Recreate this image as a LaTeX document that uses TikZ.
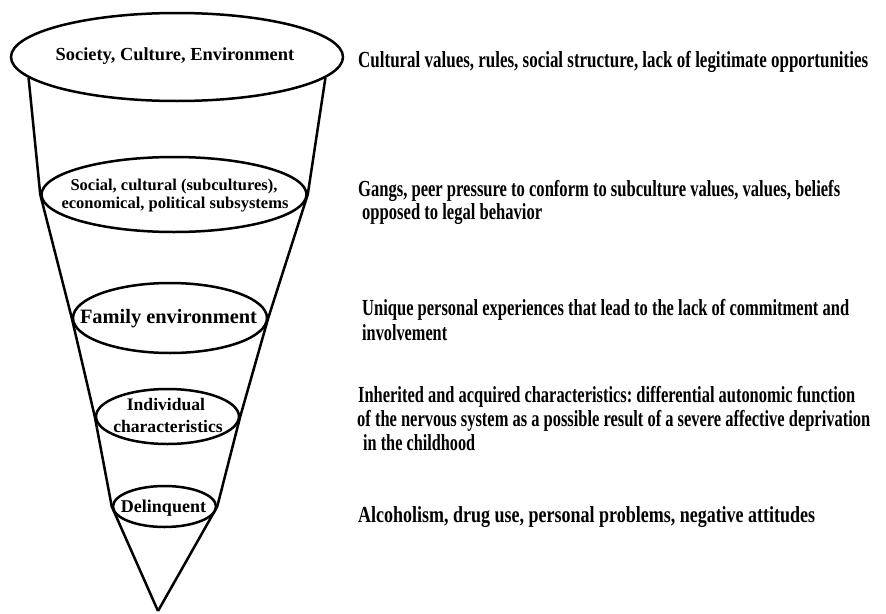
\documentclass[tikz,border=0pt]{standalone}
\usepackage{fontspec}
\setmainfont{Liberation Serif}
\frenchspacing
\usetikzlibrary{shapes.geometric}
\newcommand{\fitw}[2]{\resizebox{#1pt}{\height}{#2}}
\tikzset{
  ell/.style={ellipse, draw=black, line width=2.5pt, inner sep=0pt, fill=white},
  funnel/.style={draw=black, line width=2.5pt, line join=round},
  lab/.style={anchor=base, inner sep=0pt, text=black},
  desc/.style={anchor=base west, inner sep=0pt, text=black, font=\bfseries\fontsize{23}{24}\selectfont},
}
\begin{document}
\begin{tikzpicture}[x=1pt,y=-1pt]
\useasboundingbox (0,0) rectangle (886,613);
% apex
\coordinate (apex) at (158,611);
% ellipses
\node[ell, minimum width=332pt, minimum height=88pt] (e1) at (177,57) {};
\node[ell, minimum width=265pt, minimum height=75pt] (e2) at (174,194.5) {};
\node[ell, minimum width=194pt, minimum height=70pt] (e3) at (170,318) {};
\node[ell, minimum width=143pt, minimum height=55pt] (e4) at (167.5,416.5) {};
\node[ell, minimum width=103pt, minimum height=41pt] (e5) at (164.5,506.5) {};
% funnel sides
\draw[funnel] (e1.188) -- (e2.west) -- (e3.west) -- (e4.west) -- (e5.west) -- (apex);
\draw[funnel] (e1.-8) -- (e2.east) -- (e3.east) -- (e4.east) -- (e5.east) -- (apex);
% ellipse labels
\node[lab, font=\bfseries\fontsize{18.4}{20}\selectfont] (l1) at (175,60) {Society, Culture, Environment};
\node[lab, font=\bfseries\fontsize{16.5}{18}\selectfont] (l2a) at (174,190) {Social, cultural (subcultures),};
\node[lab, font=\bfseries\fontsize{16.5}{18}\selectfont] (l2b) at (175,208) {economical, political subsystems};
\node[lab, font=\bfseries\fontsize{20.4}{22}\selectfont] (l3) at (168.5,323) {Family environment};
\node[lab, font=\bfseries\fontsize{17.6}{20}\selectfont] (l4a) at (166,410) {Individual};
\node[lab, font=\bfseries\fontsize{17.6}{20}\selectfont] (l4b) at (168,432) {characteristics};
\node[lab, font=\bfseries\fontsize{18}{20}\selectfont] (l5) at (163.5,512) {Delinquent};
% descriptions
\node[desc] (d1) at (358,67) {\fitw{510}{Cultural values, rules, social structure, lack of legitimate opportunities}};
\node[desc] (d2a) at (358,196) {\fitw{482}{Gangs, peer pressure to conform to subculture values, values, beliefs}};
\node[desc] (d2b) at (362,219) {\fitw{180}{opposed to legal behavior}};
\node[desc] (d3a) at (362,315) {\fitw{487}{Unique personal experiences that lead to the lack of commitment and}};
\node[desc] (d3b) at (362,340) {\fitw{85}{involvement}};
\node[desc] (d4a) at (358,402) {\fitw{497}{Inherited and acquired characteristics: differential autonomic function}};
\node[desc] (d4b) at (357,426) {\fitw{513}{of the nervous system as a possible result of a severe affective deprivation}};
\node[desc] (d4c) at (363,450) {\fitw{112}{in the childhood}};
\node[desc] (d5) at (358,522) {\fitw{457}{Alcoholism, drug use, personal problems, negative attitudes}};
\end{tikzpicture}
\end{document}
